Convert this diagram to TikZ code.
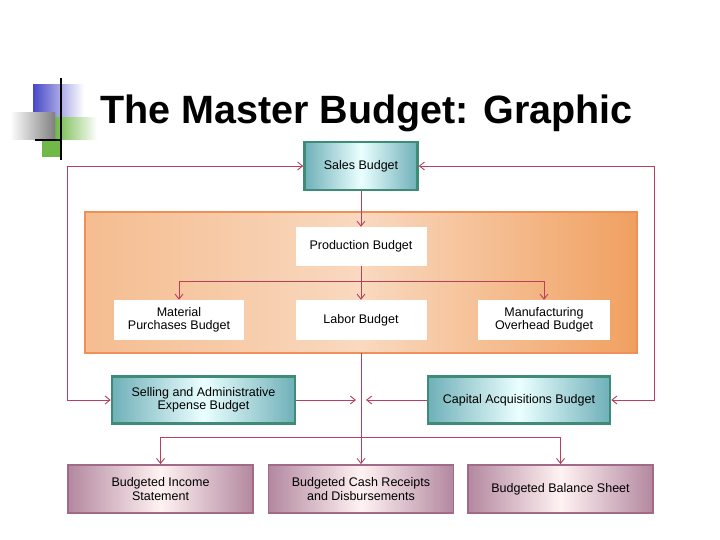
\documentclass[tikz,border=0pt]{standalone}
\usepackage{fontspec}
\setmainfont{Liberation Sans}
\usetikzlibrary{arrows.meta}
\definecolor{ln}{HTML}{B8405E}
\definecolor{teal1}{HTML}{3E8C78}
\definecolor{tealf}{HTML}{6FB0B8}
\definecolor{mauve}{HTML}{A06A88}
\definecolor{orng}{HTML}{F0A060}
\definecolor{lblue}{HTML}{4848C8}
\definecolor{lgreen}{HTML}{70B848}
\tikzset{
 x=1pt,y=-1pt,
 conn/.style={draw=ln,line width=0.9pt,-{Straight Barb[length=5pt,width=8pt]}},
 line/.style={draw=ln,line width=0.9pt},
 boxfont/.style={font=\fontsize{12.5}{13.5}\selectfont},
 tealbox/.style={draw=teal1,line width=2.5pt,left color=tealf,right color=tealf,middle color=cyan!8,align=center,boxfont},
 whitebox/.style={fill=white,align=center,boxfont},
 pinkbox/.style={draw=mauve,line width=1.8pt,left color=mauve!80,right color=mauve!80,middle color=pink!20,align=center,boxfont},
}
\begin{document}
\begin{tikzpicture}
\useasboundingbox (0,0) rectangle (720,540);
% logo
\fill[left color=lblue,right color=white] (33,85) rectangle (84,120);
\fill[left color=lgreen,right color=white] (55,118) rectangle (97,140);
\fill[left color=white,right color=gray] (10,113) rectangle (55,140);
\fill[lgreen] (42,140) rectangle (60,157);
\draw[line width=1.5pt] (61,78) -- (61,160);
\draw[line width=1.2pt] (35,140) -- (62,140);
\node[font=\bfseries\fontsize{39.5}{42}\selectfont,anchor=west,inner sep=0pt] (title) at (100,113) {The Master Budget: Graphic};
% orange panel
\draw[orng!90!red,line width=2pt,left color=orng!70,right color=orng,middle color=orng!40] (85,212) rectangle (637,353);
\coordinate (pb) at (361,353);
% boxes
\node[tealbox,minimum width=113,minimum height=48] (sales) at (361,166) {Sales Budget};
\node[whitebox,minimum width=131,minimum height=39] (prod) at (361,246.5) {Production Budget};
\node[whitebox,minimum width=130,minimum height=40] (mat) at (179,320) {Material\\Purchases Budget};
\node[whitebox,minimum width=131,minimum height=40] (lab) at (361,320) {Labor Budget};
\node[whitebox,minimum width=132,minimum height=40] (mfg) at (544,320) {Manufacturing\\Overhead Budget};
\node[tealbox,minimum width=183,minimum height=47] (sa) at (203.5,400) {Selling and Administrative\\Expense Budget};
\node[tealbox,minimum width=182,minimum height=47] (cap) at (519,400) {Capital Acquisitions Budget};
\node[pinkbox,minimum width=185,minimum height=48] (inc) at (160.5,489) {Budgeted Income\\Statement};
\node[pinkbox,minimum width=185,minimum height=48] (cash) at (361,489) {Budgeted Cash Receipts\\and Disbursements};
\node[pinkbox,minimum width=185,minimum height=48] (bal) at (560.5,489) {Budgeted Balance Sheet};
% coordinates
\coordinate (lt) at (67,166); \coordinate (lb) at (67,400);
\coordinate (rt) at (654,166); \coordinate (rb) at (654,400);
\coordinate (br) at (361,281);
\coordinate (mid) at (361,400);
\coordinate (hb) at (361,437);
% connectors
\draw[conn] (sales.south) -- (prod.north);
\draw[line] (prod.south) -- (br);
\draw[conn] (br) -| (mat.north);
\draw[conn] (br) -- (lab.north);
\draw[conn] (br) -| (mfg.north);
\draw[conn] (lt) -- (sales.west);
\draw[conn] (lt) -- (lb) -- (sa.west);
\draw[conn] (rt) -- (sales.east);
\draw[conn] (rt) -- (rb) -- (cap.east);
\draw[conn] (sa.east) -- ([xshift=-5pt]mid);
\draw[conn] (cap.west) -- ([xshift=5pt]mid);
\draw[conn] (pb) -- (cash.north);
\draw[conn] (hb) -| (inc.north);
\draw[conn] (hb) -| (bal.north);
\end{tikzpicture}
\end{document}
